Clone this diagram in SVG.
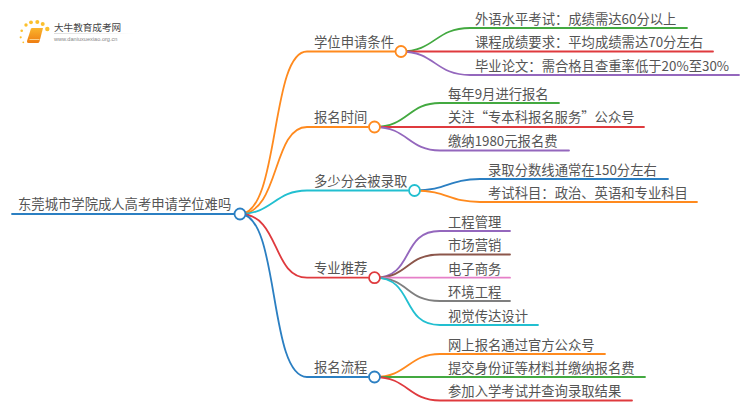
<svg xmlns="http://www.w3.org/2000/svg" width="750" height="410" viewBox="0 0 750 410">
<defs><linearGradient id="bk" x1="0" y1="0" x2="0" y2="1"><stop offset="0" stop-color="#fbb52c"/><stop offset="1" stop-color="#ee7d12"/></linearGradient>
<linearGradient id="ln" x1="0" y1="0" x2="1" y2="0"><stop offset="0" stop-color="#ddd"/><stop offset="1" stop-color="#fff"/></linearGradient></defs>
<style>
text{font-family:"Noto Sans CJK SC","Liberation Sans",sans-serif;font-size:13.33px;fill:#555}
.c{fill:none;stroke-width:1.8;stroke-linecap:round}
.n{fill:#fff;stroke-width:1.8}
.o{stroke:#ff8a1e}.g{stroke:#43a940}.r{stroke:#df3a3e}.p{stroke:#9467bd}.b{stroke:#2b7fc2}.t{stroke:#22bfd0}.br{stroke:#8c564b}.k{stroke:#e67fc8}.y{stroke:#7f7f7f}
.d{fill:#fbc02d}
</style>
<g id="logo">
<circle class="d" cx="21.700" cy="30.700" r="1.300"/><circle class="d" cx="26" cy="25" r="1.700"/><circle class="d" cx="31" cy="22.300" r="1.900"/><circle class="d" cx="37.300" cy="22" r="2"/><circle class="d" cx="42.700" cy="24" r="2"/><circle class="d" cx="47.300" cy="29" r="2.200"/><circle class="d" cx="20.700" cy="37.300" r="1.100"/><circle class="d" cx="23.300" cy="42.300" r="0.900"/>
<path d="M31 28.500Q31.500 28 32 28H43L39.500 41.500Q39 43 37.500 43H28.500Q26.500 43 27 41Z" fill="url(#bk)"/>
<path d="M29.500 39.500H39.500" stroke="#ffe2a8" stroke-width="0.800" fill="none"/>
<rect x="54" y="33" width="80" height="1" fill="url(#ln)"/>
<text x="54" y="31" style="font-size:9.600px;fill:#444">大牛教育成考网</text>
<text x="54" y="41" style="font-family:'Liberation Sans',sans-serif;font-size:5.600px;fill:#888">www.daniuxuexiao.org.cn</text>
</g>
<g id="connectors">
<path class="c b" d="M12 214H234"/>
<path class="c o" d="M240 214C280 214 270 51.500 307 51.500H395"/>
<path class="c o" d="M240 214C280 214 272 127 307 127H368"/>
<path class="c t" d="M240 214C272 214 275 190.500 307 190.500H408"/>
<path class="c r" d="M240 214C280 214 272 277.700 307 277.700H368"/>
<path class="c b" d="M240 214C280 214 268 377 307 377H368"/>
<path class="c g" d="M401 51.500C435 51.500 435 28 470 28H687"/>
<path class="c r" d="M401 51.500H713"/>
<path class="c p" d="M401 51.500C435 51.500 435 75 470 75H739"/>
<path class="c g" d="M374.500 127C408 127 408 103 440 103H559"/>
<path class="c r" d="M374.500 127H644"/>
<path class="c p" d="M374.500 127C408 127 408 150.500 440 150.500H569"/>
<path class="c b" d="M414.500 190.500C448 190.500 448 179 480 179H668"/>
<path class="c o" d="M414.500 190.500C448 190.500 448 202 480 202H697"/>
<path class="c p" d="M374.500 277.700C415 277.700 400 231 440 231H510"/>
<path class="c br" d="M374.500 277.700C410 277.700 405 254.500 440 254.500H510"/>
<path class="c k" d="M374.500 277.700H510"/>
<path class="c y" d="M374.500 277.700C410 277.700 405 301 440 301H510"/>
<path class="c t" d="M374.500 277.700C415 277.700 400 325 440 325H538"/>
<path class="c o" d="M374.500 377C408 377 408 354 440 354H605"/>
<path class="c g" d="M374.500 377H645"/>
<path class="c r" d="M374.500 377C408 377 408 400.500 440 400.500H632"/>
</g>
<g id="root"><text x="18" y="209">东莞城市学院成人高考申请学位难吗</text><circle class="n b" cx="240" cy="214" r="5.500"/></g>
<g id="n1"><text x="314" y="47">学位申请条件</text><circle class="n o" cx="401" cy="51.500" r="5.500"/></g>
<g id="n2"><text x="314" y="122">报名时间</text><circle class="n o" cx="374.500" cy="127" r="5.500"/></g>
<g id="n3"><text x="314" y="186">多少分会被录取</text><circle class="n t" cx="414.500" cy="190.500" r="5.500"/></g>
<g id="n4"><text x="314" y="273">专业推荐</text><circle class="n r" cx="374.500" cy="277.700" r="5.500"/></g>
<g id="n5"><text x="314" y="372">报名流程</text><circle class="n b" cx="374.500" cy="377" r="5.500"/></g>
<g id="l11"><text x="475" y="24">外语水平考试：成绩需达60分以上</text></g>
<g id="l12"><text x="475" y="47">课程成绩要求：平均成绩需达70分左右</text></g>
<g id="l13"><text x="475" y="71">毕业论文：需合格且查重率低于20%至30%</text></g>
<g id="l21"><text x="448" y="99">每年9月进行报名</text></g>
<g id="l22"><text x="448" y="122">关注“专本科报名服务”公众号</text></g>
<g id="l23"><text x="448" y="146">缴纳1980元报名费</text></g>
<g id="l31"><text x="488" y="175">录取分数线通常在150分左右</text></g>
<g id="l32"><text x="488" y="198">考试科目：政治、英语和专业科目</text></g>
<g id="l41"><text x="448" y="227">工程管理</text></g>
<g id="l42"><text x="448" y="250">市场营销</text></g>
<g id="l43"><text x="448" y="274">电子商务</text></g>
<g id="l44"><text x="448" y="297">环境工程</text></g>
<g id="l45"><text x="448" y="321">视觉传达设计</text></g>
<g id="l51"><text x="448" y="350">网上报名通过官方公众号</text></g>
<g id="l52"><text x="448" y="373">提交身份证等材料并缴纳报名费</text></g>
<g id="l53"><text x="448" y="396">参加入学考试并查询录取结果</text></g>
</svg>
